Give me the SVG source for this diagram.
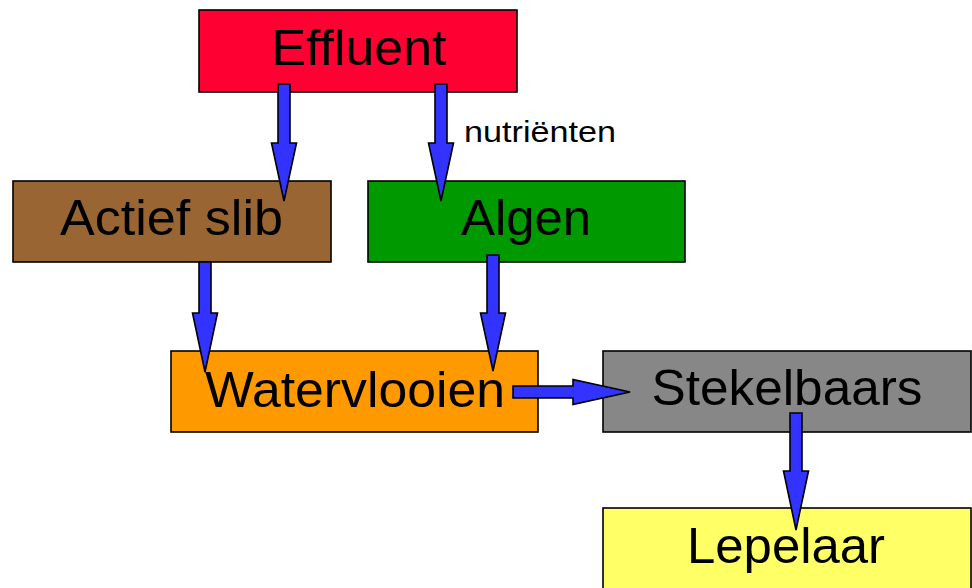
<svg xmlns="http://www.w3.org/2000/svg" width="972" height="588" viewBox="0 0 972 588">
  <style>
    .box { stroke: #000; stroke-width: 1.6; }
    .lbl { font-family: "Liberation Sans", Arial, sans-serif; font-size: 50px; fill: #000; text-anchor: middle; }
    .small { font-family: "Liberation Sans", Arial, sans-serif; font-size: 30px; fill: #000; }
    .arrow { fill: #3333FF; stroke: #000; stroke-width: 1.6; stroke-linejoin: miter; }
  </style>
  <rect width="972" height="588" fill="#fff"/>

  <g id="effluent">
    <rect class="box" x="199" y="10" width="318" height="82" fill="#FF0033"/>
    <text class="lbl" x="359" y="65" textLength="175" lengthAdjust="spacingAndGlyphs">Effluent</text>
  </g>
  <g id="actief-slib">
    <rect class="box" x="13" y="181" width="318" height="81" fill="#996633"/>
    <text class="lbl" x="171.5" y="235" textLength="223" lengthAdjust="spacingAndGlyphs">Actief slib</text>
  </g>
  <g id="algen">
    <rect class="box" x="368" y="181" width="317" height="81" fill="#009900"/>
    <text class="lbl" x="526" y="235" textLength="130" lengthAdjust="spacingAndGlyphs">Algen</text>
  </g>
  <g id="watervlooien">
    <rect class="box" x="171" y="351" width="367" height="81" fill="#FF9900"/>
    <text class="lbl" x="355" y="407" textLength="300" lengthAdjust="spacingAndGlyphs">Watervlooien</text>
  </g>
  <g id="stekelbaars">
    <rect class="box" x="603" y="351" width="368" height="81" fill="#878787"/>
    <text class="lbl" x="787" y="405" textLength="271" lengthAdjust="spacingAndGlyphs">Stekelbaars</text>
  </g>
  <g id="lepelaar">
    <rect class="box" x="603" y="508" width="368" height="90" fill="#FFFF66"/>
    <text class="lbl" x="786" y="563" textLength="198" lengthAdjust="spacingAndGlyphs">Lepelaar</text>
  </g>

  <g id="connectors">
    <polygon class="arrow" points="278,84 290,84 290,143 296.5,143 284,201 271.5,143 278,143"/>
    <polygon class="arrow" points="435,84 447,84 447,143 453.5,143 441,201 428.5,143 435,143"/>
    <polygon class="arrow" points="199,262 211,262 211,313 217.5,313 205,372 192.5,313 199,313"/>
    <polygon class="arrow" points="487,255 499,255 499,313 505.5,313 493,371 480.5,313 487,313"/>
    <polygon class="arrow" points="513,386 573,386 573,379.5 630,392 573,404.5 573,398 513,398"/>
    <polygon class="arrow" points="790,413 802,413 802,471 808.5,471 796,530 783.5,471 790,471"/>
    <text class="small" x="464" y="142" textLength="152" lengthAdjust="spacingAndGlyphs">nutriënten</text>
  </g>
</svg>
